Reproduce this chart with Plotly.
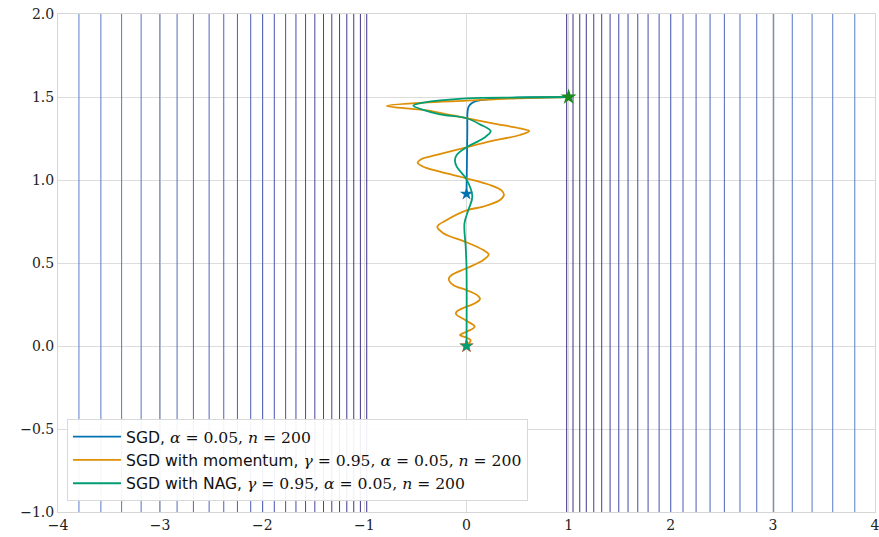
import plotly.graph_objects as go
from plotly.colors import sample_colorscale

# ---- data ----
X_RANGE = [-4, 4]
Y_RANGE = [-1, 2]
x_ticks = [-4, -3, -2, -1, 0, 1, 2, 3, 4]
y_ticks = [-1.0, -0.5, 0.0, 0.5, 1.0, 1.5, 2.0]

# contour level positions (x where the nearly vertical level lines sit)
contour_x_left = [-0.977, -1.039, -1.104, -1.172, -1.243, -1.319, -1.400, -1.485,
                  -1.576, -1.670, -1.771, -1.882, -1.996, -2.113, -2.243, -2.377,
                  -2.520, -2.674, -2.834, -3.003, -3.186, -3.377, -3.580, -3.795]
contour_x_right = [0.981, 1.043, 1.109, 1.173, 1.246, 1.324, 1.406, 1.491,
                   1.582, 1.677, 1.778, 1.886, 2.000, 2.120, 2.248, 2.385,
                   2.525, 2.678, 2.842, 3.008, 3.190, 3.384, 3.586, 3.802]

start_point = (1.0, 1.5)
minimum_point = (0.0, 0.0)

sgd_x = [1.0, 0.5, 0.2, 0.1, 0.05, 0.02, 0.01, 0.008, 0.004, 0.0]
sgd_y = [1.5, 1.496, 1.486, 1.476, 1.462, 1.44, 1.41, 1.30, 1.10, 0.916]

mom_x = [1.0, 0.5, 0.0, -0.423, -0.78, -0.423, -0.26, 0.0, 0.296, 0.524, 0.615,
         0.524, 0.296, 0.0, -0.292, -0.439, -0.478, -0.423, -0.26, 0.0, 0.23, 0.345, 0.367,
         0.328, 0.165, 0.0, -0.194, -0.286, -0.227, 0.0, 0.165, 0.217,
         0.165, 0.0, -0.145, -0.174, -0.13, 0.0, 0.116, 0.132,
         0.083, 0.0, -0.096, -0.103, 0.0, 0.08, 0.0, -0.064, 0.0, 0.04, 0.0]
mom_y = [1.5, 1.492, 1.478, 1.466, 1.446, 1.422, 1.405, 1.372, 1.337, 1.311, 1.295,
         1.271, 1.241, 1.197, 1.151, 1.127, 1.104, 1.080, 1.05, 1.01, 0.97, 0.936, 0.91,
         0.88, 0.84, 0.817, 0.759, 0.719, 0.679, 0.625, 0.578, 0.552,
         0.518, 0.468, 0.428, 0.404, 0.367, 0.337, 0.301, 0.283,
         0.257, 0.237, 0.207, 0.193, 0.152, 0.116, 0.086, 0.066, 0.05, 0.036, 0.0]

nag_x = [1.0, 0.5, 0.0, -0.423, -0.521, -0.423, -0.26, 0.0, 0.132, 0.237,
         0.165, 0.0, -0.096, -0.113, -0.096, 0.0, 0.057, 0.018, -0.02, -0.008, 0.0, 0.0]
nag_y = [1.5, 1.497, 1.492, 1.466, 1.448, 1.422, 1.395, 1.372, 1.335, 1.294,
         1.251, 1.197, 1.151, 1.12, 1.08, 1.004, 0.90, 0.819, 0.739, 0.598, 0.478, 0.0]

labels = [
    'SGD, <span style="font-family:DejaVu Serif"><i>α</i> = 0.05, <i>n</i> = 200</span>',
    'SGD with momentum, <span style="font-family:DejaVu Serif"><i>γ</i> = 0.95, <i>α</i> = 0.05, <i>n</i> = 200</span>',
    'SGD with NAG, <span style="font-family:DejaVu Serif"><i>γ</i> = 0.95, <i>α</i> = 0.05, <i>n</i> = 200</span>',
]
colors = ["#0173B2", "#DE8F05", "#029E73"]

# ---- figure ----
fig = go.Figure()

scale = [[0, "#2a1a78"], [0.5, "#3344ae"], [1, "#4a72c4"]]
n = len(contour_x_right)
for i in range(n):
    c = sample_colorscale(scale, i / (n - 1))[0]
    for v in (contour_x_left[i], contour_x_right[i]):
        fig.add_trace(go.Scatter(x=[v, v], y=Y_RANGE, mode="lines",
                                 line=dict(color=c, width=1), opacity=0.9,
                                 showlegend=False, hoverinfo="skip"))

# minimum marker
fig.add_trace(go.Scatter(x=[minimum_point[0]], y=[minimum_point[1]], mode="markers",
                         marker=dict(symbol="star", size=11, color="#e03030"),
                         showlegend=False, hoverinfo="skip"))

paths = [(sgd_x, sgd_y), (mom_x, mom_y), (nag_x, nag_y)]
for (px, py), lab, col in zip(paths, labels, colors):
    fig.add_trace(go.Scatter(x=px, y=py, mode="lines", name=lab,
                             line=dict(color=col, width=1.8, shape="spline", smoothing=1.0)))
    fig.add_trace(go.Scatter(x=[px[-1]], y=[py[-1]], mode="markers",
                             marker=dict(symbol="star", size=10, color=col),
                             showlegend=False, hoverinfo="skip"))

fig.add_trace(go.Scatter(x=[start_point[0]], y=[start_point[1]], mode="markers",
                         marker=dict(symbol="star", size=12, color="#1a8a1a"),
                         showlegend=False, hoverinfo="skip"))

axis_common = dict(showgrid=True, gridcolor="#dcdcdc", gridwidth=1,
                   showline=True, linecolor="#d6d6d6", linewidth=1, mirror=True,
                   zeroline=False, ticks="", ticklabeloverflow="allow", automargin=False,
                   tickfont=dict(family="DejaVu Serif", size=14, color="#222"))

fig.update_xaxes(range=X_RANGE, tickvals=x_ticks,
                 ticktext=[("−" + str(abs(t))) if t < 0 else str(t) for t in x_ticks],
                 **axis_common)
fig.update_yaxes(range=Y_RANGE, tickvals=y_ticks,
                 ticktext=[("−" + f"{abs(t):.1f}") if t < 0 else f"{t:.1f}" for t in y_ticks],
                 **axis_common)

fig.update_layout(
    width=879, height=537,
    margin=dict(l=58, r=4, t=14, b=25),
    plot_bgcolor="white", paper_bgcolor="white",
    legend=dict(x=0.011, y=0.022, xanchor="left", yanchor="bottom",
                bgcolor="rgba(255,255,255,0.92)", bordercolor="#d8d8d8", borderwidth=1,
                font=dict(family="DejaVu Sans", size=15.6, color="#111"),
                itemwidth=48, tracegroupgap=0),
    showlegend=True,
)

fig.write_html("out.html")
